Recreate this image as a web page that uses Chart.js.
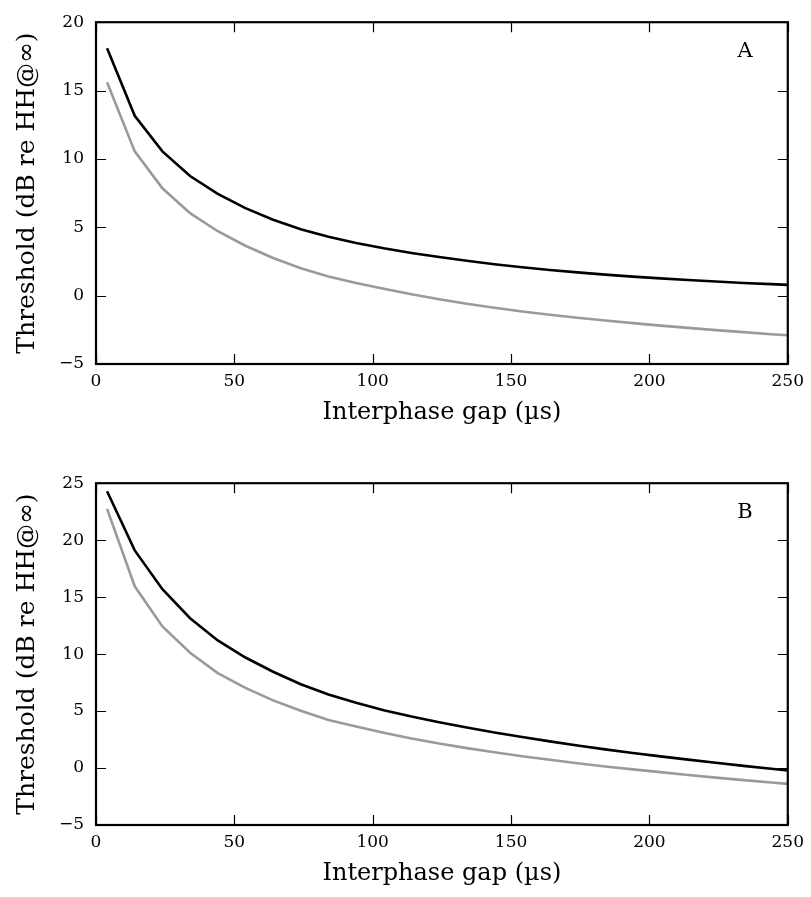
<!DOCTYPE html>
<html>
<head>
<meta charset="utf-8">
<script src="https://cdn.jsdelivr.net/npm/chart.js@4/dist/chart.umd.min.js"></script>
<style>
  html, body { margin: 0; padding: 0; background: #fff; overflow: hidden; }
  #wrap { position: relative; width: 811px; height: 897px; }
  .pane { position: absolute; left: 0; width: 811px; height: 436px; }
</style>
</head>
<body>
<div id="wrap">
  <div class="pane" style="top:0px"><canvas id="cA"></canvas></div>
  <div class="pane" style="top:461px"><canvas id="cB"></canvas></div>
</div>
<script>
// Interphase gap (µs)
const gaps = [4, 14, 24, 34, 44, 54, 64, 74, 84, 94, 104, 114, 124, 134, 144, 154, 164, 174, 184, 194, 204, 214, 224, 234, 244, 250];

// Panel A
const panelA_black = [18.1, 13.15, 10.55, 8.75, 7.45, 6.4, 5.55, 4.85, 4.3, 3.85, 3.46, 3.12, 2.82, 2.55, 2.3, 2.08, 1.88, 1.70, 1.54, 1.39, 1.26, 1.14, 1.03, 0.93, 0.84, 0.79];
const panelA_gray  = [15.6, 10.55, 7.85, 6.03, 4.71, 3.65, 2.75, 2.0, 1.4, 0.93, 0.5, 0.1, -0.26, -0.59, -0.89, -1.16, -1.40, -1.62, -1.82, -2.01, -2.19, -2.36, -2.52, -2.67, -2.82, -2.9];

// Panel B
const panelB_black = [24.3, 19.1, 15.7, 13.15, 11.2, 9.7, 8.45, 7.35, 6.45, 5.72, 5.08, 4.52, 4.02, 3.56, 3.12, 2.72, 2.34, 1.98, 1.64, 1.32, 1.02, 0.74, 0.46, 0.19, -0.07, -0.22];
const panelB_gray  = [22.75, 15.95, 12.43, 10.12, 8.33, 7.03, 5.94, 5.02, 4.21, 3.65, 3.1, 2.6, 2.15, 1.75, 1.38, 1.04, 0.72, 0.42, 0.14, -0.12, -0.36, -0.61, -0.84, -1.06, -1.27, -1.39];

const xTicks = [0, 50, 100, 150, 200, 250];
const yTicksA = [-5, 0, 5, 10, 15, 20];
const yTicksB = [-5, 0, 5, 10, 15, 20, 25];

const xTitle = 'Interphase gap (\u00B5s)';
const yTitle = 'Threshold (dB re HH@\u221E)';

const FONT = "'DejaVu Serif', serif";

function pts(xs, ys) { return xs.map((x, i) => ({ x: x, y: ys[i] })); }
function fmt(v) { return v < 0 ? '\u2212' + Math.abs(v) : String(v); }

const frameTicks = {
  id: 'frameTicks',
  afterDraw(chart, args, opts) {
    const { ctx, chartArea: a } = chart;
    const xs = chart.scales.x, ys = chart.scales.y;
    ctx.save();
    ctx.strokeStyle = '#000';
    ctx.lineWidth = 1.2;
    const L = 10;
    xs.ticks.forEach(t => {
      const px = Math.round(xs.getPixelForValue(t.value)) + 0.5;
      ctx.beginPath();
      ctx.moveTo(px, a.bottom); ctx.lineTo(px, a.bottom - L);
      ctx.moveTo(px, a.top); ctx.lineTo(px, a.top + L);
      ctx.stroke();
    });
    ys.ticks.forEach(t => {
      const py = Math.round(ys.getPixelForValue(t.value)) + 0.5;
      ctx.beginPath();
      ctx.moveTo(a.left, py); ctx.lineTo(a.left + L, py);
      ctx.moveTo(a.right, py); ctx.lineTo(a.right - L, py);
      ctx.stroke();
    });
    ctx.lineWidth = 2.2;
    ctx.strokeRect(a.left, a.top, a.right - a.left, a.bottom - a.top);
    ctx.fillStyle = '#000';
    ctx.font = '21px ' + FONT;
    ctx.textAlign = 'center';
    ctx.textBaseline = 'middle';
    ctx.fillText(opts.letter, 745, a.top + 29);
    ctx.restore();
  }
};

function makeChart(id, black, gray, yMin, yMax, yTicks, letter) {
  new Chart(document.getElementById(id), {
    type: 'line',
    data: {
      datasets: [
        { data: pts(gaps, gray), borderColor: '#9a9a9a', borderWidth: 2.6, pointRadius: 0, tension: 0, fill: false },
        { data: pts(gaps, black), borderColor: '#000000', borderWidth: 2.6, pointRadius: 0, tension: 0, fill: false }
      ]
    },
    options: {
      responsive: true,
      maintainAspectRatio: false,
      animation: false,
      layout: { padding: { top: 17, right: 21, left: 0, bottom: 0 } },
      plugins: { legend: { display: false }, tooltip: { enabled: false }, frameTicks: { letter: letter } },
      scales: {
        x: {
          type: 'linear', min: 0, max: 250,
          afterBuildTicks: s => { s.ticks = xTicks.map(v => ({ value: v })); },
          afterFit: s => { s.height = 72; },
          grid: { display: false, drawTicks: false },
          border: { display: false },
          ticks: { padding: 7, color: '#000', font: { family: FONT, size: 17 }, maxRotation: 0, callback: v => fmt(v) },
          title: { display: true, text: xTitle, color: '#000', font: { family: FONT, size: 24 }, padding: { top: 0, bottom: 9 } }
        },
        y: {
          type: 'linear', min: yMin, max: yMax,
          afterBuildTicks: s => { s.ticks = yTicks.map(v => ({ value: v })); },
          afterFit: s => { s.width = 96; },
          grid: { display: false, drawTicks: false },
          border: { display: false },
          ticks: { padding: 12, color: '#000', font: { family: FONT, size: 17 }, callback: v => fmt(v) },
          title: { display: true, text: yTitle, color: '#000', font: { family: FONT, size: 25 }, padding: { top: 12, bottom: 0 } }
        }
      }
    },
    plugins: [frameTicks]
  });
}

makeChart('cA', panelA_black, panelA_gray, -5, 20, yTicksA, 'A');
makeChart('cB', panelB_black, panelB_gray, -5, 25, yTicksB, 'B');
</script>
</body>
</html>
